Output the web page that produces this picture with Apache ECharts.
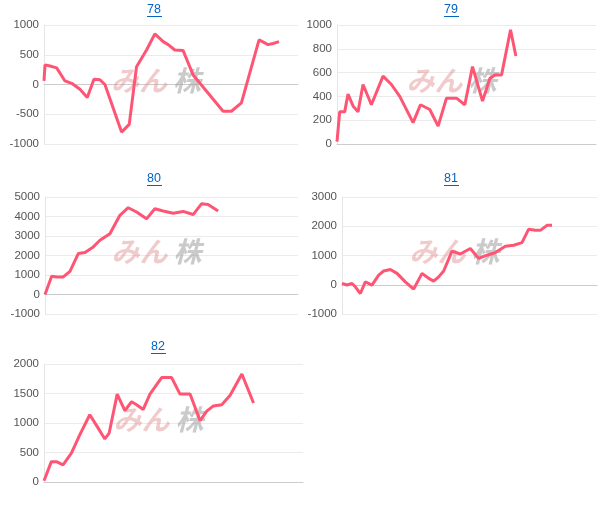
<!DOCTYPE html>
<html>
<head>
<meta charset="utf-8">
<script src="https://cdn.jsdelivr.net/npm/echarts@6/dist/echarts.min.js"></script>
<style>html,body{margin:0;padding:0;background:#fff}#c{width:606px;height:505px}</style>
</head>
<body>
<div id="c"></div>
<script>
// chart titles
var titles = ['78', '79', '80', '81', '82'];

// x positions (per chart) and values
var x78 = [0,3,18,38,63,83,108,130,150,168,183,233,256,278,308,333,358,373,393,418,448,538,563,593,646,673,688,706];
var v78 = [60,330,310,280,60,20,-80,-220,90,80,0,-800,-670,300,580,850,720,670,580,570,160,-450,-450,-310,750,670,690,720];

var x79 = [0,8,23,33,48,63,78,103,138,163,188,228,250,278,303,328,358,383,406,436,458,473,493,520,536];
var v79 = [20,270,270,420,320,270,500,330,570,500,400,180,330,290,150,385,385,330,650,360,550,580,580,960,740];

var x80 = [0,20,35,55,75,100,120,145,165,180,195,225,250,275,305,330,355,385,415,445,470,490,520];
var v80 = [0,940,900,900,1190,2100,2150,2440,2780,2950,3120,4060,4450,4230,3880,4400,4280,4170,4260,4100,4650,4610,4280];

var x81 = [0,15,30,40,55,70,90,110,125,145,165,190,215,240,260,275,290,305,330,355,385,410,435,460,490,515,540,560,580,595,615,630];
var v81 = [45,-10,45,-70,-300,100,-10,330,470,520,390,100,-150,390,220,125,270,470,1150,1050,1240,900,1010,1100,1320,1350,1440,1900,1860,1860,2030,2030];

var x82 = [0,22,37,57,82,107,137,157,182,195,219,242,262,277,297,317,352,382,407,437,467,487,507,532,557,592,627];
var v82 = [20,345,345,290,490,800,1140,960,730,830,1490,1210,1360,1310,1230,1490,1770,1770,1490,1490,1040,1200,1290,1310,1470,1830,1340];

var xs = [x78, x79, x80, x81, x82];
var vs = [v78, v79, v80, v81, v82];
var xMax = [763, 776, 760, 765, 775];
var yMin = [-1000, 0, -1000, -1000, 0];
var yMax = [1000, 1000, 5000, 3000, 2000];
var yStep = [500, 200, 1000, 1000, 500];

// panel boxes: left, top, width, height, title centre x, title y
var boxes = [
    [44, 25, 254, 119, 155, 3],
    [337, 25, 259, 119, 452, 3],
    [45, 197, 253, 117, 155, 172],
    [342, 197, 255, 117, 452, 172],
    [44, 364, 259, 118, 159, 340]
];

var grids = [], xAxes = [], yAxes = [], series = [], graphics = [];
for (var i = 0; i < 5; i++) {
    var b = boxes[i];
    grids.push({ left: b[0], top: b[1], width: b[2], height: b[3] });
    xAxes.push({
        type: 'value', gridIndex: i, min: 0, max: xMax[i],
        axisLine: { show: true, onZero: true, lineStyle: { color: '#ccc' } },
        axisTick: { show: false }, axisLabel: { show: false }, splitLine: { show: false }
    });
    yAxes.push({
        type: 'value', gridIndex: i, min: yMin[i], max: yMax[i], interval: yStep[i],
        axisLine: { show: true, lineStyle: { color: '#e6e6e6' } },
        axisTick: { show: false },
        axisLabel: { color: '#555', fontSize: 11.5, margin: 5, fontFamily: 'Arial, Liberation Sans',
            formatter: function (v) { return String(v); } },
        splitLine: { lineStyle: { color: '#ebebeb' } }
    });
    var pts = xs[i].map(function (x, k) { return [x, vs[i][k]]; });
    series.push({
        type: 'line', xAxisIndex: i, yAxisIndex: i, data: pts, symbol: 'none',
        lineStyle: { color: '#ff5574', width: 3 }, z: 3
    });
    // title with underline
    graphics.push({
        type: 'text', left: b[4] - 8, top: b[5],
        style: { text: titles[i], fill: '#0563c1', font: '12.5px Arial, Liberation Sans' }
    });
    graphics.push({
        type: 'rect', shape: { x: b[4] - 8, y: b[5] + 13, width: 15, height: 1 },
        style: { fill: '#0563c1' }
    });
    // watermark
    var cx = b[0] + b[2] / 2, cy = b[1] + b[3] / 2;
    graphics.push({
        type: 'text', left: cx - 60, top: cy - 18, z: 1,
        style: { text: 'みん', fill: 'rgba(225,140,140,0.45)', font: 'italic bold 28px "Noto Sans CJK JP"' }
    });
    graphics.push({
        type: 'text', left: cx + 2, top: cy - 18, z: 1,
        style: { text: '株', fill: 'rgba(150,150,150,0.5)', font: 'italic bold 28px "Noto Sans CJK JP"' }
    });
}

var myChart = echarts.init(document.getElementById('c'));
myChart.setOption({
    animation: false,
    grid: grids, xAxis: xAxes, yAxis: yAxes, series: series, graphic: graphics
});
</script>
</body>
</html>
